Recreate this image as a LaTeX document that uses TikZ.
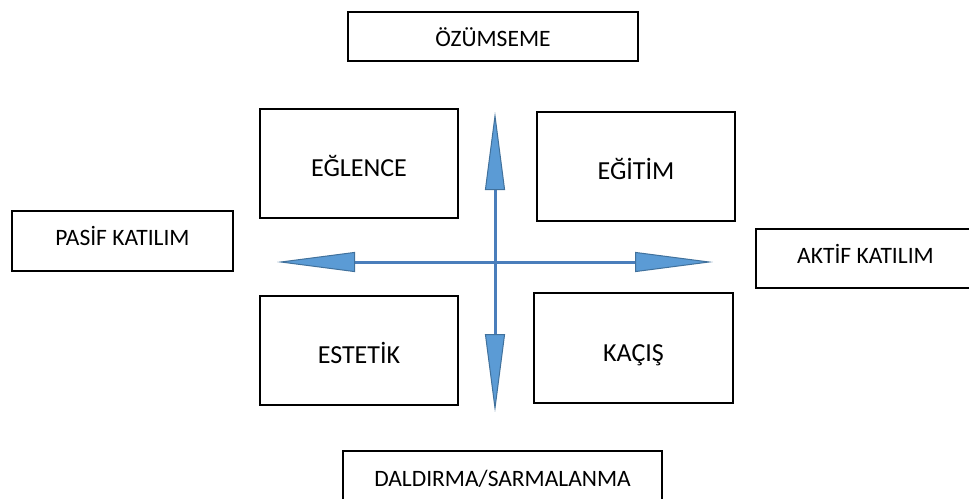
\documentclass[tikz,border=0pt]{standalone}
\usepackage{fontspec}
\setmainfont{Carlito}
\usetikzlibrary{arrows.meta}
\definecolor{shaft}{HTML}{4A7EBB}
\definecolor{headfill}{HTML}{5B9BD5}
\definecolor{headline}{HTML}{41719C}
\tikzset{
  outerbox/.style={draw=black, line width=1.6pt, rectangle, inner sep=0pt,
    text height=15.1pt, text depth=0pt,
    font=\fontsize{23.5}{28}\selectfont},
  innerbox/.style={draw=black, line width=1.6pt, rectangle, inner sep=0pt,
    minimum width=198pt, minimum height=109pt, text height=26.7pt, text depth=0pt,
    font=\fontsize{26}{31}\selectfont},
  axis/.style={draw=shaft, line width=3pt,
    {Triangle[length=78pt, width=20pt, fill=headfill, color=headline, line width=1pt]}-{Triangle[length=78pt, width=20pt, fill=headfill, color=headline, line width=1pt]}}
}
\begin{document}
\begin{tikzpicture}[x=1pt, y=-1pt]
\fill[white] (0,0) rectangle (969,498);
\clip (0,0) rectangle (969,498);
\node[outerbox, minimum width=290pt, minimum height=49pt, text height=19.7pt] (ozum) at (493,36.5) {ÖZÜMSEME};
\node[outerbox, minimum width=221pt, minimum height=60pt, text depth=6pt] (pasif) at (122.5,241) {PASİF KATILIM};
\node[outerbox, minimum width=219pt, minimum height=59pt, text depth=6pt] (aktif) at (865.5,258.5) {AKTİF KATILIM};
\node[outerbox, minimum width=319pt, minimum height=54pt, text height=16.1pt] (dald) at (502.5,478) {DALDIRMA/SARMALANMA};
\node[innerbox] (eglence) at (359,163.5) {EĞLENCE};
\node[innerbox] (egitim) at (636,166.5) {EĞİTİM};
\node[innerbox] (estetik) at (359,350.5) {ESTETİK};
\node[innerbox, minimum width=199pt, minimum height=110pt, text height=27.7pt] (kacis) at (633.5,348) {KAÇIŞ};
\coordinate (L) at (277,262);
\coordinate (R) at (713,262);
\coordinate (T) at (495,112);
\coordinate (B) at (495,412);
\draw[axis] (L) -- (R);
\draw[axis] (T) -- (B);
\end{tikzpicture}
\end{document}
